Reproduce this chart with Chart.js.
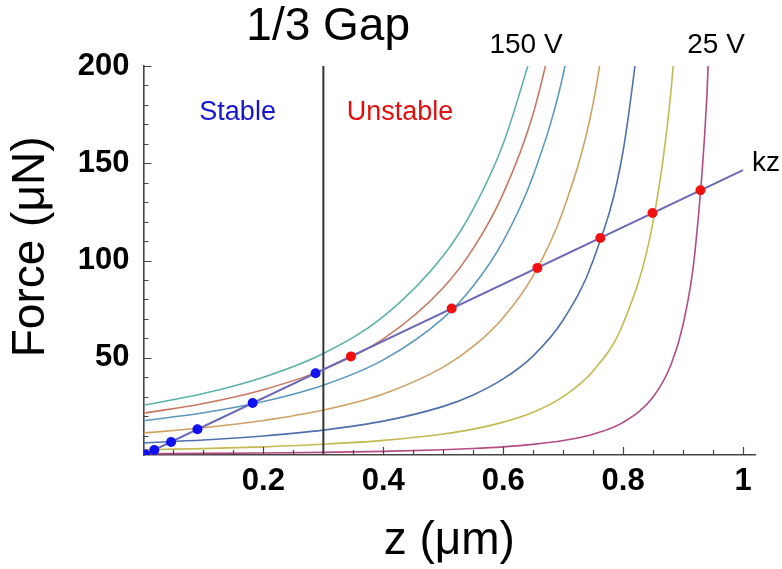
<!DOCTYPE html>
<html>
<head>
<meta charset="utf-8">
<script src="https://cdn.jsdelivr.net/npm/chart.js@4.4.1/dist/chart.umd.min.js"></script>
<style>
  html, body { margin: 0; padding: 0; background: #fff; }
  #wrap { width: 782px; height: 569px; position: relative; }
</style>
</head>
<body>
<div id="wrap"><canvas id="gapChart"></canvas></div>
<script>
const zValues = [0, 0.1, 0.2, 0.3, 0.4, 0.5, 0.55, 0.6, 0.65, 0.7, 0.75, 0.8, 0.85, 0.88, 0.9, 0.92, 0.94, 0.95];

// electrostatic force (uN), 150 V curve (top-left) down to 25 V (right-most)
const force150 = [25.6, 31.6, 40.0, 52.2, 71.1, 102.4, 126.4, 160.0, 209.0];
const force140 = [21.5, 26.5, 33.6, 43.9, 59.7, 86.0, 106.2, 134.4, 175.5, 238.9];
const force125 = [17.6, 21.7, 27.5, 35.9, 48.9, 70.4, 86.9, 110.0, 143.7, 195.6, 281.6];
const force100 = [11.3, 14.0, 17.7, 23.1, 31.4, 45.2, 55.8, 70.6, 92.2, 125.6, 180.8, 282.5];
const force75 = [6.25, 7.7, 9.8, 12.8, 17.4, 25.0, 30.9, 39.1, 51.0, 69.4, 100.0, 156.3, 277.8];
const force50 = [2.7, 3.3, 4.2, 5.5, 7.5, 10.8, 13.3, 16.9, 22.0, 30.0, 43.2, 67.5, 120.0, 187.5, 270.0];
const force25 = [0.67, 0.83, 1.05, 1.37, 1.86, 2.68, 3.31, 4.19, 5.47, 7.44, 10.7, 16.8, 29.8, 46.5, 67.0, 104.7, 186.0, 268.0];

// spring force kz
const kzZ = [0, 1];
const kzForce = [0, 146.5];

// equilibrium points
const stableZ = [0.003, 0.018, 0.046, 0.090, 0.182, 0.287];
const stableForce = [0.4, 2.6, 6.7, 13.2, 26.7, 42.0];
const unstableZ = [0.346, 0.514, 0.657, 0.762, 0.849, 0.929];
const unstableForce = [50.7, 75.3, 96.2, 111.6, 124.4, 136.1];

const gapZ = 0.3;

const xTickValues = [0.2, 0.4, 0.6, 0.8, 1];
const xTickLabels = ['0.2', '0.4', '0.6', '0.8', '1'];
const yTickValues = [50, 100, 150, 200];
const yTickLabels = ['50', '100', '150', '200'];

const curves = [
    { name: '150 V', data: force150, color: '#5db1a8' },
    { name: '140 V', data: force140, color: '#c77862' },
    { name: '125 V', data: force125, color: '#5d98c0' },
    { name: '100 V', data: force100, color: '#cfa264' },
    { name: '75 V', data: force75, color: '#5071ad' },
    { name: '50 V', data: force50, color: '#c4ba52' },
    { name: '25 V', data: force25, color: '#b24c82' }
];

const toPoints = (xs, ys) => ys.map((y, i) => ({ x: xs[i], y }));

const innerTicks = {
    id: 'innerTicks',
    afterDatasetsDraw(chart) {
        const { ctx, scales: { x, y } } = chart;
        ctx.save();
        ctx.strokeStyle = '#444';
        ctx.lineWidth = 1.2;
        ctx.beginPath();
        for (let i = 1; i <= 20; i++) {
            const px = Math.round(x.getPixelForValue(i * 0.05)) + 0.5;
            const len = i % 4 === 0 ? 8 : 5;
            ctx.moveTo(px, y.bottom);
            ctx.lineTo(px, y.bottom - len);
        }
        for (let i = 1; i <= 20; i++) {
            const py = Math.round(y.getPixelForValue(i * 10)) + 0.5;
            const len = i % 5 === 0 ? 8 : 5;
            ctx.moveTo(x.left, py);
            ctx.lineTo(x.left + len, py);
        }
        ctx.stroke();
        ctx.restore();
    }
};

// free text: title, voltage labels, region names, and the rotated y title
const notes = {
    id: 'notes',
    afterDraw(chart, args, opts) {
        const { ctx, scales: { x, y } } = chart;
        ctx.save();
        opts.items.forEach(n => {
            ctx.font = n.font;
            ctx.fillStyle = n.color;
            ctx.textAlign = n.align || 'center';
            ctx.textBaseline = 'middle';
            ctx.fillText(n.text, x.getPixelForValue(n.z), y.getPixelForValue(n.f));
        });
        const t = opts.yTitle;
        ctx.translate(t.left, y.getPixelForValue(t.f));
        ctx.rotate(-Math.PI / 2);
        ctx.font = t.font;
        ctx.fillStyle = '#000';
        ctx.textAlign = 'center';
        ctx.textBaseline = 'middle';
        ctx.fillText(t.text, 0, 0);
        ctx.restore();
    }
};

const datasets = [
    {
        label: 'Stable',
        data: toPoints(stableZ, stableForce),
        showLine: false,
        pointRadius: 5,
        pointBackgroundColor: '#1010f0',
        pointBorderWidth: 0
    },
    {
        label: 'Unstable',
        data: toPoints(unstableZ, unstableForce),
        showLine: false,
        pointRadius: 5,
        pointBackgroundColor: '#f01010',
        pointBorderWidth: 0
    },
    {
        label: 'kz',
        data: toPoints(kzZ, kzForce),
        borderColor: '#6b68b8',
        borderWidth: 2,
        pointRadius: 0
    },
    {
        label: '1/3 gap',
        data: [{ x: gapZ, y: 0 }, { x: gapZ, y: 200 }],
        borderColor: '#333',
        borderWidth: 2,
        pointRadius: 0
    },
    ...curves.map(c => ({
        label: c.name,
        data: toPoints(zValues, c.data),
        borderColor: c.color,
        borderWidth: 1.6,
        pointRadius: 0,
        cubicInterpolationMode: 'monotone'
    }))
];

Chart.defaults.font.family = '"Liberation Sans", Arial, sans-serif';
Chart.defaults.color = '#000';

new Chart(document.getElementById('gapChart'), {
    type: 'line',
    data: { datasets },
    options: {
        responsive: true,
        maintainAspectRatio: false,
        animation: false,
        layout: { padding: { top: 66, right: 27, left: 0, bottom: 0 } },
        plugins: {
            legend: { display: false },
            tooltip: { enabled: false },
            notes: {
                items: [
                    { text: '1/3 Gap', z: 0.308, f: 220, font: '46px "Liberation Sans", Arial', color: '#000' },
                    { text: '150 V', z: 0.638, f: 210.5, font: '28px "Liberation Sans", Arial', color: '#000' },
                    { text: '25 V', z: 0.955, f: 210.5, font: '28px "Liberation Sans", Arial', color: '#000' },
                    { text: 'Stable', z: 0.157, f: 176, font: '27px "Liberation Sans", Arial', color: '#1414d2' },
                    { text: 'Unstable', z: 0.428, f: 176, font: '27px "Liberation Sans", Arial', color: '#e01010' },
                    { text: 'kz', z: 1.015, f: 150, font: '28px "Liberation Sans", Arial', color: '#000', align: 'left' }
                ],
                yTitle: { text: 'Force (μN)', left: 31, f: 107, font: '46px "Liberation Sans", Arial' }
            }
        },
        scales: {
            x: {
                type: 'linear',
                min: 0,
                max: 1.02,
                afterFit: s => { s.height = 114; },
                afterBuildTicks: s => { s.ticks = xTickValues.map(v => ({ value: v })); },
                grid: { display: false, drawTicks: false },
                border: { display: true, color: '#444', width: 1.6 },
                ticks: {
                    padding: 8,
                    font: { size: 31, weight: 'bold' },
                    callback: v => xTickLabels[xTickValues.indexOf(v)]
                },
                title: {
                    display: true,
                    text: 'z (μm)',
                    font: { size: 46 },
                    padding: { top: 0, bottom: 0 }
                }
            },
            y: {
                min: 0,
                max: 200,
                afterFit: s => { s.width = 143.5; },
                afterBuildTicks: s => { s.ticks = yTickValues.map(v => ({ value: v })); },
                grid: { display: false, drawTicks: false },
                border: { display: true, color: '#444', width: 1.6 },
                ticks: {
                    padding: 14,
                    font: { size: 31, weight: 'bold' },
                    callback: v => yTickLabels[yTickValues.indexOf(v)]
                },
                title: { display: false }
            }
        }
    },
    plugins: [innerTicks, notes]
});
</script>
</body>
</html>
